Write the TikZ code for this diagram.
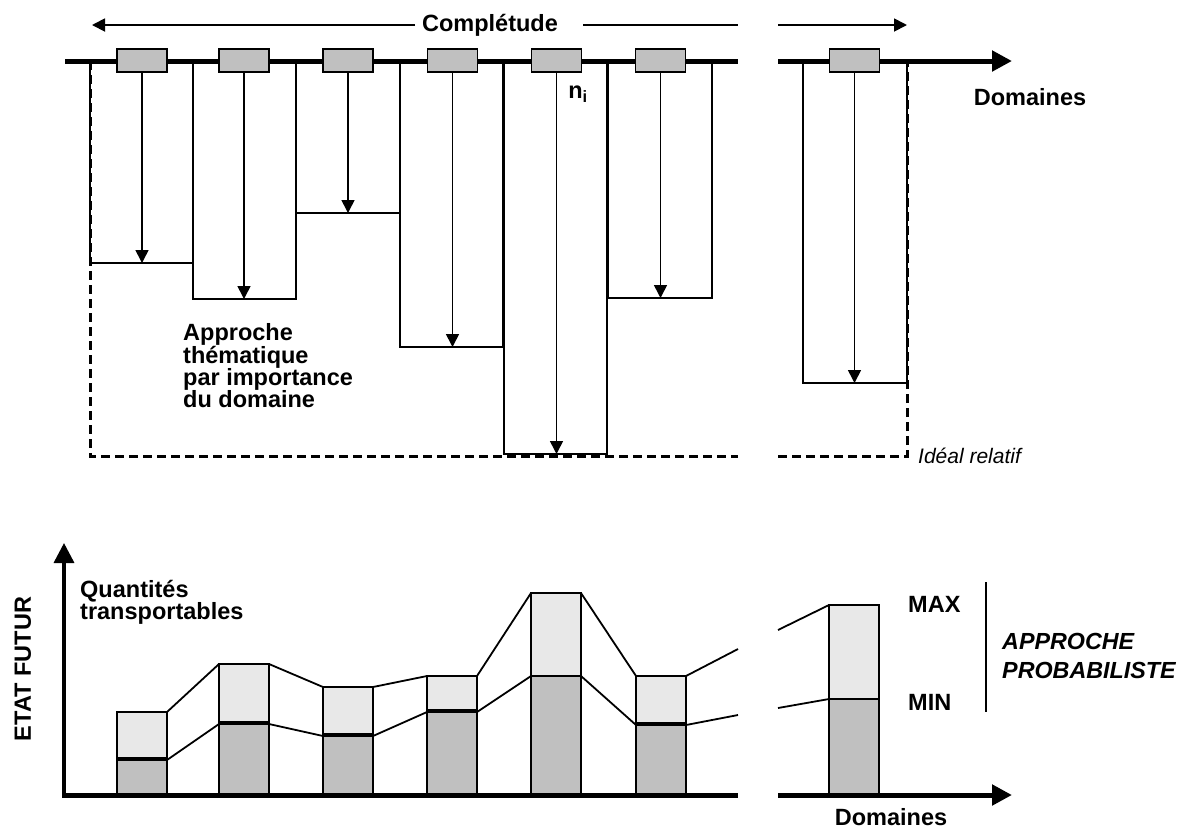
\documentclass[tikz,border=0pt]{standalone}
\usepackage{fontspec}
\setmainfont{Liberation Sans}
\usetikzlibrary{arrows.meta}
\definecolor{boxgray}{HTML}{C0C0C0}
\definecolor{barlight}{HTML}{E8E8E8}
\begin{document}
\begin{tikzpicture}[x=1pt,y=-1pt,
  thinline/.style={line width=1.8pt},
  axisline/.style={line width=5pt},
  bigtip/.style={-{Triangle[length=20pt,width=20pt]}},
  smalltip/.style={-{Triangle[length=13pt,width=13pt]}},
  dashline/.style={line width=3pt, dash pattern=on 9pt off 5pt},
  hang/.style={draw, line width=1.8pt, minimum width=103.5pt, inner sep=0pt, outer sep=0pt, anchor=north},
  tag/.style={draw, fill=boxgray, line width=1.4pt, minimum width=50pt, minimum height=23pt, inner sep=0pt, outer sep=0pt},
  drop/.style={line width=1.6pt, smalltip},
  lbar/.style={draw, fill=barlight, line width=1.8pt, minimum width=50pt, inner sep=0pt, outer sep=0pt, anchor=north},
  dbar/.style={draw, fill=boxgray, line width=1.8pt, minimum width=50pt, inner sep=0pt, outer sep=0pt, anchor=north},
  lbl/.style={font=\bfseries\fontsize{23.5}{22}\selectfont, inner sep=0pt},
  plbl/.style={font=\bfseries\itshape\fontsize{23.3}{29}\selectfont, inner sep=0pt},
  ilbl/.style={font=\itshape\fontsize{21}{22}\selectfont, inner sep=0pt}
]
\useasboundingbox (0,0) rectangle (1185,831);

% ---------- upper diagram ----------
% ideal (dashed) outline
\draw[dashline] (90,61) -- (90,456) -- (738,456);
\draw[dashline] (778,456) -- (907,456) -- (907,61);

% hanging rectangles
\node[hang, minimum height=202pt] (r1) at (141.5,61) {};
\node[hang, minimum height=238pt] (r2) at (244.5,61) {};
\node[hang, minimum height=152pt] (r3) at (348,61) {};
\node[hang, minimum height=286pt] (r4) at (451.5,61) {};
\node[hang, minimum height=393pt] (r5) at (555.5,61) {};
\node[hang, minimum height=237pt] (r6) at (660,61) {};
\node[hang, minimum height=322pt] (r7) at (855,61) {};

% domain axis
\coordinate (da0) at (65,61);
\coordinate (da1) at (738,61);
\coordinate (da2) at (778,61);
\coordinate (da3) at (1012,61);
\draw[axisline] (da0) -- (da1);
\draw[axisline, bigtip] (da2) -- (da3);

% tags
\node[tag] (t1) at (142,60.5) {};
\node[tag] (t2) at (244,60.5) {};
\node[tag] (t3) at (348,60.5) {};
\node[tag] (t4) at (452.5,60.5) {};
\node[tag] (t5) at (556.5,60.5) {};
\node[tag] (t6) at (660.5,60.5) {};
\node[tag] (t7) at (854.5,60.5) {};

% drop arrows
\draw[drop] (t1.south) -- (t1.south |- r1.south);
\draw[drop] (t2.south) -- (t2.south |- r2.south);
\draw[drop] (t3.south) -- (t3.south |- r3.south);
\draw[drop] (t4.south) -- (t4.south |- r4.south);
\draw[drop] (t5.south) -- (t5.south |- r5.south);
\draw[drop] (t6.south) -- (t6.south |- r6.south);
\draw[drop] (t7.south) -- (t7.south |- r7.south);

% completude arrow
\node[lbl] (comp) at (490,25) {Complétude};
\coordinate (c0) at (415,25);
\coordinate (c1) at (92,25);
\coordinate (c2) at (583,25);
\coordinate (c3) at (738,25);
\coordinate (c4) at (778,25);
\coordinate (c5) at (907,25);
\draw[thinline, smalltip] (c0) -- (c1);
\draw[thinline] (c2) -- (c3);
\draw[thinline, smalltip] (c4) -- (c5);

% labels
\node[lbl] (dom1) at (1030,97) {Domaines};
\node[lbl] (ni) at (578,94) {n\textsubscript{i}};
\node[lbl, anchor=north west, align=left] (appr) at (183,323) {Approche\\thématique\\par importance\\du domaine};
\node[ilbl, anchor=west] (ideal) at (918,456) {Idéal relatif};

% ---------- lower diagram ----------
\node[lbar, minimum height=46pt] (lb1) at (142,712) {};
\node[dbar, minimum height=35pt] (db1) at (142,760) {};
\node[lbar, minimum height=58pt] (lb2) at (244,664) {};
\node[dbar, minimum height=71pt] (db2) at (244,724) {};
\node[lbar, minimum height=47pt] (lb3) at (348,687) {};
\node[dbar, minimum height=59pt] (db3) at (348,736) {};
\node[lbar, minimum height=34pt] (lb4) at (452,676) {};
\node[dbar, minimum height=83pt] (db4) at (452,712) {};
\node[lbar, minimum height=83pt] (lb5) at (556,593) {};
\node[dbar, minimum height=119pt] (db5) at (556,676) {};
\node[lbar, minimum height=47pt] (lb6) at (661,676) {};
\node[dbar, minimum height=70pt] (db6) at (661,725) {};
\node[lbar, minimum height=94pt] (lb7) at (854,605) {};
\node[dbar, minimum height=96pt] (db7) at (854,699) {};

% max line
\coordinate (gu1) at (738,649);
\coordinate (gu2) at (778,630);
\draw[thinline] (lb1.north east) -- (lb2.north west);
\draw[thinline] (lb2.north east) -- (lb3.north west);
\draw[thinline] (lb3.north east) -- (lb4.north west);
\draw[thinline] (lb4.north east) -- (lb5.north west);
\draw[thinline] (lb5.north east) -- (lb6.north west);
\draw[thinline] (lb6.north east) -- (gu1);
\draw[thinline] (gu2) -- (lb7.north west);
% min line
\coordinate (gl1) at (738,715);
\coordinate (gl2) at (778,708);
\draw[thinline] (db1.north east) -- (db2.north west);
\draw[thinline] (db2.north east) -- (db3.north west);
\draw[thinline] (db3.north east) -- (db4.north west);
\draw[thinline] (db4.north east) -- (db5.north west);
\draw[thinline] (db5.north east) -- (db6.north west);
\draw[thinline] (db6.north east) -- (gl1);
\draw[thinline] (gl2) -- (db7.north west);

% axes
\coordinate (o) at (64,795);
\coordinate (ytop) at (64,543);
\coordinate (xa1) at (738,795);
\coordinate (xa2) at (778,795);
\coordinate (xa3) at (1012,795);
\draw[line width=3.5pt, bigtip] (o) -- (ytop);
\draw[axisline] (62,795) -- (xa1);
\draw[axisline, bigtip] (xa2) -- (xa3);

% labels
\node[lbl, anchor=north west, align=left] (qt) at (80,580) {Quantités\\transportables};
\node[lbl, rotate=90] (etat) at (23,669) {ETAT FUTUR};
\node[lbl] (dom2) at (891,817) {Domaines};
\node[lbl, anchor=west] (max) at (908,604) {MAX};
\node[lbl, anchor=west] (min) at (908,702) {MIN};
\coordinate (s1) at (986,582);
\coordinate (s2) at (986,712);
\draw[thinline] (s1) -- (s2);
\node[plbl, anchor=north west, align=left] (prob) at (1002,633) {APPROCHE\\PROBABILISTE};
\end{tikzpicture}
\end{document}
